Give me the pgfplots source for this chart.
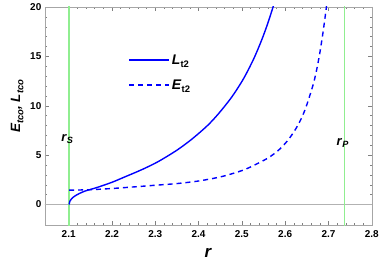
\documentclass[border=0pt]{standalone}
\usepackage{fontspec}
\setmainfont{Liberation Sans}
\usepackage{pgfplots}
\pgfplotsset{compat=1.18}
\definecolor{lgreen}{RGB}{144,238,144}
\newcommand{\sub}[1]{\raisebox{-0.45ex}{\fontsize{9.5}{11}\selectfont #1}}
\begin{document}
\begin{tikzpicture}
\begin{axis}[
  scale only axis, width=328pt, height=219pt,
  xmin=2.045, xmax=2.8, ymin=-2.1, ymax=20,
  xtick={2.1,2.2,...,2.8}, ytick={0,5,10,15,20},
  minor x tick num=4, minor y tick num=4,
  xticklabels={2.1,2.2,2.3,2.4,2.5,2.6,2.7,2.8},
  /pgf/number format/assume math mode=true,
  ticklabel style={font=\fontsize{10}{12}\selectfont\bfseries},
  xticklabel style={yshift=-2pt},
  tick align=inside, ticks=both,
  major tick length=4pt, minor tick length=2pt,
  every tick/.style={gray},
  axis line style={gray!70},
  xlabel={\textbf{\textit{r}}},
  ylabel={\mbox{\bfseries\itshape E\sub{tco}, L\sub{tco}}},
  xlabel style={font=\fontsize{17}{19}\selectfont, yshift=-4pt},
  ylabel style={font=\fontsize{13.5}{15}\selectfont, at={(ticklabel cs:0.545)}},
  legend style={at={(0.245,0.80)}, anchor=north west, draw=white, fill=white,
    font=\fontsize{14}{16}\selectfont\bfseries, row sep=10pt},
  legend cell align=left,
  legend image code/.code={\draw[#1, line width=2pt] (0pt,0pt) -- (40pt,0pt);},
  clip=true,
]
\addplot[gray!60, line width=0.4pt, forget plot] coordinates {(2.0,0) (2.9,0)};
\addplot[lgreen, line width=1.3pt, forget plot] coordinates {(2.101,-5) (2.101,25)};
\addplot[lgreen, line width=1.3pt, forget plot] coordinates {(2.737,-5) (2.737,25)};
\addplot[color=blue, line width=1.4pt, smooth, tension=0.5] coordinates {
(2.101,0) (2.103,0.35) (2.107,0.6) (2.114,0.85) (2.125,1.12) (2.137,1.35) (2.15,1.52)
(2.168,1.76) (2.2,2.25) (2.23,2.8) (2.27,3.55) (2.307,4.35) (2.35,5.5) (2.384,6.6)
(2.42,7.97) (2.446,9.19) (2.476,10.84) (2.5,12.45) (2.515,13.65) (2.53,15.0) (2.546,16.68)
(2.56,18.36) (2.575,20.4) (2.58,21.1)};
\addlegendentry{\textit{L}\sub{t2}}
\addplot[color=blue, line width=1.4pt, dash pattern=on 5pt off 4pt, smooth, tension=0.5] coordinates {
(2.101,1.45) (2.15,1.5) (2.2,1.62) (2.25,1.78) (2.3,1.95) (2.35,2.12) (2.4,2.38)
(2.446,2.75) (2.476,3.1) (2.51,3.6) (2.554,4.55) (2.575,5.15) (2.592,5.8) (2.608,6.6)
(2.623,7.55) (2.635,8.5) (2.646,9.6) (2.656,10.9) (2.666,12.35) (2.674,13.9)
(2.681,15.6) (2.688,17.6) (2.695,19.9) (2.698,21)};
\addlegendentry{\textit{E}\sub{t2}}
\node[font=\fontsize{13}{15}\selectfont\bfseries] at (axis cs:2.097,6.6) {\textit{r}\textsubscript{\textit{S}}};
\node[font=\fontsize{13}{15}\selectfont\bfseries] at (axis cs:2.733,6.2) {\textit{r}\textsubscript{\textit{P}}};
\end{axis}
\path[use as bounding box] ([xshift=-45pt,yshift=-45pt]current axis.south west) rectangle ([xshift=9pt,yshift=7pt]current axis.north east);
\end{tikzpicture}
\end{document}
